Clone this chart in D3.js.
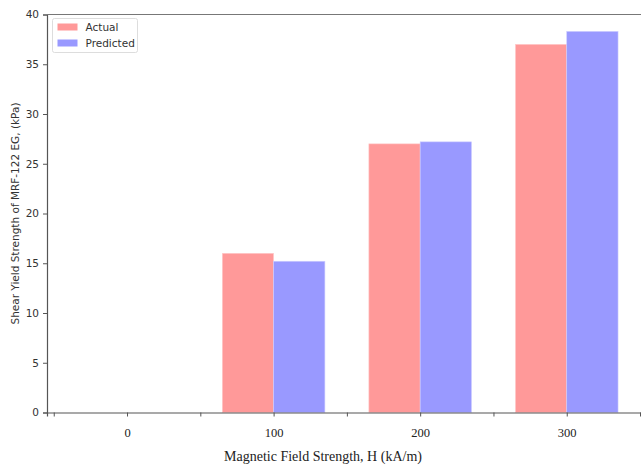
<!DOCTYPE html>
<html>
<head>
<meta charset="utf-8">
<script src="https://cdn.jsdelivr.net/npm/d3@7"></script>
<style>
  html, body { margin: 0; padding: 0; background: #fff; overflow: hidden; }
  svg { display: block; }
</style>
</head>
<body>
<svg id="chart" width="641" height="467"></svg>
<script>
// Field strengths (kA/m) and shear yield strengths (kPa)
const fieldStrengths = [0, 100, 200, 300];
const actualValues = [0, 16.0, 27.0, 37.0];
const predictedValues = [0, 15.2, 27.2, 38.3];
const seriesNames = ["Actual", "Predicted"];
const seriesColors = ["#ff9999", "#9999ff"];
const yTicks = [0, 5, 10, 15, 20, 25, 30, 35, 40];
const xTicks = [-50, 0, 50, 100, 150, 200, 250, 300, 350];
const xLabelTicks = [0, 100, 200, 300];
const barWidth = 35;

(function () {
  const svg = d3.select("#chart");
  const W = 641;

  const plotLeft = 47, plotTop = 14.5, plotBottom = 412.5;
  const pxPerUnit = 513 / 350;
  const x = d3.scaleLinear().domain([-54.6, 420]).range([plotLeft, plotLeft + 474.6 * pxPerUnit]);
  const y = d3.scaleLinear().domain([0, 40]).range([plotBottom, plotTop]);

  const g = svg.append("g");

  // Bars: actual sits left of each field value, predicted to the right
  const series = [actualValues, predictedValues];
  series.forEach((vals, si) => {
    g.selectAll(null)
      .data(fieldStrengths.map((f, i) => ({ f, v: vals[i] })))
      .enter()
      .append("rect")
      .attr("x", d => si === 0 ? x(d.f - barWidth) : x(d.f))
      .attr("width", d => x(d.f + barWidth) - x(d.f))
      .attr("y", d => y(d.v))
      .attr("height", d => y(0) - y(d.v))
      .attr("fill", seriesColors[si])
      .attr("stroke", si === 0 ? "#ffcccc" : "#ccccff")
      .attr("stroke-width", 0.6);
  });

  // Y axis
  const yAxis = d3.axisLeft(y).tickValues(yTicks).tickSize(4).tickPadding(4).tickFormat(d3.format("d"));
  const yg = g.append("g").attr("transform", `translate(${plotLeft},0)`).call(yAxis);
  yg.select(".domain").attr("stroke", "#555").attr("stroke-width", 1.2);
  yg.selectAll(".tick line").attr("stroke", "#555");
  yg.selectAll(".tick text")
    .attr("font-family", "DejaVu Sans, sans-serif")
    .attr("font-size", 10.5)
    .attr("fill", "#333");

  // X axis
  const xAxis = d3.axisBottom(x).tickValues(xTicks).tickSize(4).tickPadding(12)
    .tickFormat(d => xLabelTicks.includes(d) ? String(d) : "");
  const xg = g.append("g").attr("transform", `translate(0,${plotBottom})`).call(xAxis);
  xg.select(".domain").attr("stroke", "#555").attr("stroke-width", 1.2);
  xg.selectAll(".tick line").attr("stroke", "#555");
  xg.selectAll(".tick text")
    .attr("font-family", "Liberation Serif, Times New Roman, serif")
    .attr("font-size", 12.5)
    .attr("fill", "#222");

  // Top spine
  g.append("line")
    .attr("x1", plotLeft).attr("x2", W)
    .attr("y1", plotTop).attr("y2", plotTop)
    .attr("stroke", "#777").attr("stroke-width", 1.2);

  // Axis titles
  svg.append("text")
    .attr("x", 323).attr("y", 461)
    .attr("text-anchor", "middle")
    .attr("font-family", "Liberation Serif, Times New Roman, serif")
    .attr("font-size", 14)
    .attr("fill", "#222")
    .text("Magnetic Field Strength, H (kA/m)");

  svg.append("text")
    .attr("transform", `translate(19,${(plotTop + plotBottom) / 2}) rotate(-90)`)
    .attr("text-anchor", "middle")
    .attr("font-family", "DejaVu Sans, sans-serif")
    .attr("font-size", 10.5)
    .attr("fill", "#333")
    .text("Shear Yield Strength of MRF-122 EG, (kPa)");

  // Legend
  const lg = svg.append("g").attr("transform", "translate(52.5,18.5)");
  lg.append("rect")
    .attr("width", 85).attr("height", 34).attr("rx", 2)
    .attr("fill", "#fff").attr("stroke", "#ddd").attr("stroke-width", 1);
  seriesNames.forEach((name, i) => {
    lg.append("rect")
      .attr("x", 5).attr("y", 5 + i * 16)
      .attr("width", 20).attr("height", 7)
      .attr("fill", seriesColors[i]);
    lg.append("text")
      .attr("x", 33).attr("y", 12 + i * 16)
      .attr("font-family", "DejaVu Sans, sans-serif")
      .attr("font-size", 10.5)
      .attr("fill", "#333")
      .text(name);
  });
})();
</script>
</body>
</html>
